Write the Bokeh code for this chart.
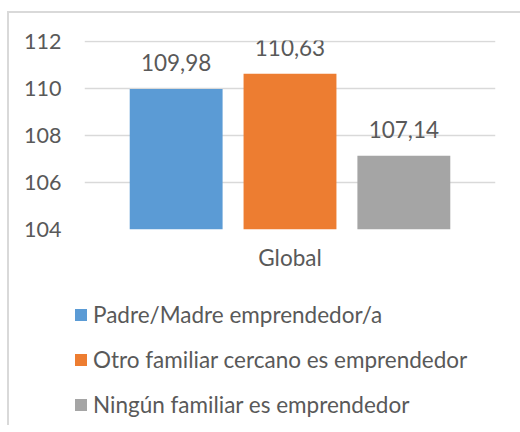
from bokeh.plotting import figure
from bokeh.layouts import column
from bokeh.models import (FactorRange, Range1d, LabelSet, ColumnDataSource,
                          Legend, LegendItem, FixedTicker)
from bokeh.core.properties import value
from bokeh.transform import dodge
from bokeh.embed import file_html
from bokeh.resources import INLINE

category = ["Global"]
series = ["Padre/Madre emprendedor/a",
          "Otro familiar cercano es emprendedor",
          "Ningún familiar es emprendedor"]
values = [109.98, 110.63, 107.14]
colors = ["#5B9BD5", "#ED7D31", "#A5A5A5"]
y_ticks = [104, 106, 108, 110, 112]

FONT = "Lato"
TEXT = "#595959"
GRID = "#D9D9D9"

xr = FactorRange(*category, range_padding=0)

p = figure(width=511, height=272, x_range=xr,
           y_range=Range1d(104, 112.04),
           output_backend="svg", toolbar_location=None,
           min_border_left=75, min_border_right=25,
           min_border_top=27, min_border_bottom=56)
p.outline_line_color = None
p.frame_align = False

# axes
p.yaxis.ticker = FixedTicker(ticks=y_ticks)
p.yaxis.axis_line_color = None
p.yaxis.major_tick_line_color = None
p.yaxis.minor_tick_line_color = None
p.yaxis.major_tick_out = 0
p.yaxis.major_label_standoff = 23
p.yaxis.major_label_text_font = FONT
p.yaxis.major_label_text_font_size = "21.5px"
p.yaxis.major_label_text_color = TEXT

p.xaxis.axis_line_color = None
p.xaxis.major_tick_line_color = None
p.xaxis.major_tick_out = 0
p.xaxis.major_label_standoff = 14
p.xaxis.major_label_text_font = FONT
p.xaxis.major_label_text_font_size = "22.5px"
p.xaxis.major_label_text_color = TEXT

p.xgrid.grid_line_color = None
p.ygrid.grid_line_color = GRID
p.ygrid.grid_line_width = 1.5

# legend figure (below the chart)
q = figure(width=511, height=140, x_range=xr, y_range=Range1d(0, 1),
           output_backend="svg", toolbar_location=None,
           x_axis_location=None, y_axis_location=None,
           min_border=0)
q.grid.grid_line_color = None
q.outline_line_color = None
q.frame_align = False

bar_w = 0.226
gap = 0.051
step = bar_w + gap

items = []
for i, (name, v, c) in enumerate(zip(series, values, colors)):
    src = ColumnDataSource(dict(
        x=category, y=[v],
        label=[f"{v:.2f}".replace(".", ",")]))
    off = (i - 1) * step
    p.vbar(x=dodge("x", off, range=xr), top="y", bottom=104,
           width=bar_w, source=src, fill_color=c, line_color=None)
    lbl = LabelSet(x=dodge("x", off, range=xr), y="y", text="label",
                   source=src, y_offset=18, text_align="center",
                   text_baseline="alphabetic", text_font=value(FONT),
                   text_font_size=value("22.5px"), text_color=TEXT)
    p.add_layout(lbl)
    # legend proxy of the same series (zero width, outside the visible range)
    r = q.vbar(x=dodge("x", off, range=xr), top="y", bottom=104,
               width=0, source=src, fill_color=c, line_color=None)
    items.append(LegendItem(label=name, renderers=[r]))

legend = Legend(items=items, location=(64, 7.5), orientation="vertical",
                glyph_width=15, glyph_height=15, label_height=27,
                spacing=18, padding=0, margin=0, label_standoff=5,
                label_text_font=FONT, label_text_font_size="22.5px",
                label_text_color=TEXT, border_line_color=None,
                background_fill_alpha=0)
q.add_layout(legend, "center")

layout = column(p, q, spacing=0,
                styles={"margin-left": "7px", "margin-top": "11px",
                        "border-left": "2px solid #D9D9D9",
                        "border-top": "2px solid #D9D9D9"})

open("out.html", "w").write(file_html(layout, INLINE))
